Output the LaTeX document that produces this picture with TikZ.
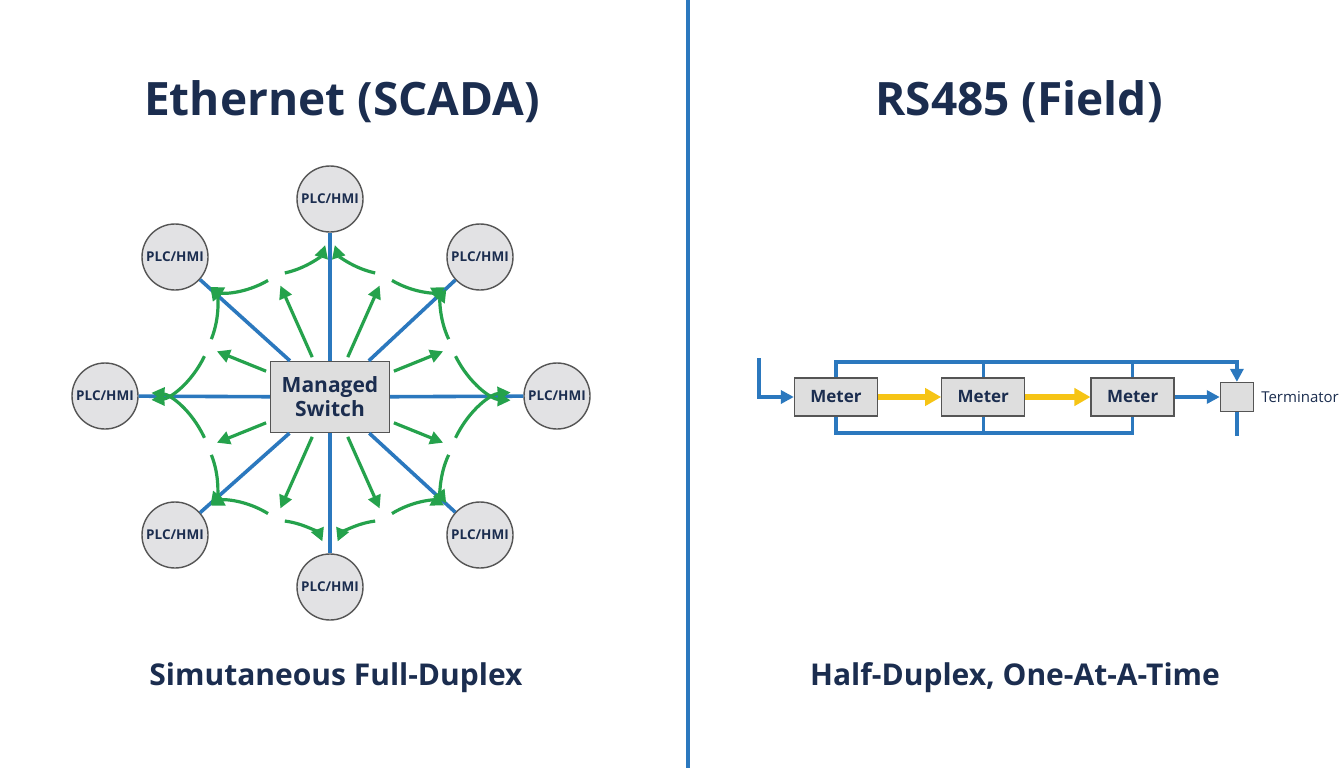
\documentclass[tikz,border=0pt]{standalone}
\usepackage{fontspec}
\setmainfont{Open Sans}
\usepackage{xcolor}
\usetikzlibrary{arrows.meta, positioning, calc}
\definecolor{ink}{HTML}{1B2D4F}
\definecolor{netblue}{HTML}{2B78BE}
\definecolor{flowgreen}{HTML}{25A24C}
\definecolor{tokyellow}{HTML}{F6C415}
\definecolor{boxfill}{HTML}{DEDEDE}
\definecolor{plcfill}{HTML}{E2E2E4}
\definecolor{rim}{HTML}{555555}
\tikzset{
  headline/.style={anchor=base, text=ink, font=\fontsize{46}{50}\selectfont\bfseries},
  footline/.style={anchor=base, text=ink, font=\fontsize{30}{34}\selectfont\bfseries},
  plc/.style={circle, draw=rim, fill=plcfill, line width=1.4pt, minimum size=66pt, inner sep=0pt, text=ink, font=\fontsize{13.5}{15}\selectfont\bfseries},
  swbox/.style={rectangle, draw=rim, fill=boxfill, line width=1.4pt, minimum width=119pt, minimum height=71pt, inner sep=2pt, align=center, text=ink, font=\fontsize{21}{24}\selectfont\bfseries},
  meter/.style={rectangle, draw=rim, fill=boxfill, line width=1.3pt, minimum width=83pt, minimum height=38pt, inner sep=2pt, text=ink, font=\fontsize{17}{19}\selectfont\bfseries},
  termbox/.style={rectangle, draw=rim, fill=boxfill, line width=1.3pt, minimum width=33pt, minimum height=29pt, inner sep=0pt},
  termlab/.style={text=ink, font=\fontsize{15}{17}\selectfont, inner sep=0pt},
  spoke/.style={draw=netblue, line width=3.6pt},
  flow/.style={-{Triangle[length=13pt, width=13pt]}, draw=flowgreen, line width=3.2pt},
  bus/.style={draw=netblue, line width=3.6pt},
  busarr/.style={bus, -{Triangle[length=13pt, width=13pt]}},
  token/.style={-{Triangle[length=16pt, width=17pt]}, draw=tokyellow, line width=5.5pt},
  divider/.style={draw=netblue, line width=4.5pt},
}

\begin{document}
\begin{tikzpicture}[x=1pt, y=-1pt]
  \path[fill=white, use as bounding box] (0,0) rectangle (1344,768);

  \coordinate (dtop) at (688,0);
  \coordinate (dbot) at (688,768);
  \draw[divider] (dtop) -- (dbot);

  \node[headline] (ethtitle) at (342,115) {Ethernet (SCADA)};
  \node[headline] (rstitle) at (1019,115) {RS485 (Field)};
  \node[footline] (ethcap) at (336,685) {Simutaneous Full-Duplex};
  \node[footline] (rscap) at (1015,685) {Half-Duplex, One-At-A-Time};

  % star
  \node[swbox] (sw) at (330,397) {Managed\\Switch};
  \node[plc] (n1) at (330,199) {PLC/HMI};
  \node[plc] (n2) at (480,257) {PLC/HMI};
  \node[plc] (n3) at (557,396) {PLC/HMI};
  \node[plc] (n4) at (480,535) {PLC/HMI};
  \node[plc] (n5) at (330,587) {PLC/HMI};
  \node[plc] (n6) at (175,535) {PLC/HMI};
  \node[plc] (n7) at (105,396) {PLC/HMI};
  \node[plc] (n8) at (175,257) {PLC/HMI};
  \foreach \i in {1,...,8}
    \draw[spoke] (sw) -- (n\i);
  \foreach \a/\p/\q [count=\i] in {114/n8/n1, 66/n1/n2, 22/n2/n3, 338/n3/n4, 294/n4/n5, 246/n5/n6, 202/n6/n7, 158/n7/n8} {
    \coordinate (tip\i) at ($(sw.center)+(\a:122pt)$);
    \coordinate (la\i) at ($(sw.center)+(\a+4:132pt)$);
    \coordinate (lb\i) at ($(sw.center)+(\a-4:132pt)$);
    \draw[flow, shorten <=4pt] (sw.\a) -- (tip\i);
    \draw[flow, shorten >=13pt] (la\i) to[bend left=30] (\p);
    \draw[flow, shorten >=13pt] (lb\i) to[bend right=30] (\q);
  }

  % bus
  \node[meter] (m1) at (836,397) {Meter};
  \node[meter, right=63pt of m1] (m2) {Meter};
  \node[meter, right=65pt of m2] (m3) {Meter};
  \node[termbox, right=45pt of m3] (term) {};
  \node[termlab, right=7pt of term] (termtxt) {Terminator};
  \coordinate (topbus) at (0,362);
  \coordinate (botbus) at (0,433);
  \coordinate (feed) at (759,358);
  \coordinate (tail) at ($(term.south)+(0,24)$);
  \draw[busarr] (feed) |- (m1.west);
  \draw[busarr] (m1.north) |- (topbus -| term.north) -- (term.north);
  \draw[bus] (m2.north) -- (m2.north |- topbus);
  \draw[bus] (m3.north) -- (m3.north |- topbus);
  \draw[bus] (m1.south) |- (botbus -| m3.south) -- (m3.south);
  \draw[bus] (m2.south) -- (m2.south |- botbus);
  \draw[bus] (term.south) -- (tail);
  \draw[token] (m1) -- (m2);
  \draw[token] (m2) -- (m3);
  \draw[busarr] (m3) -- (term);
\end{tikzpicture}
\end{document}
